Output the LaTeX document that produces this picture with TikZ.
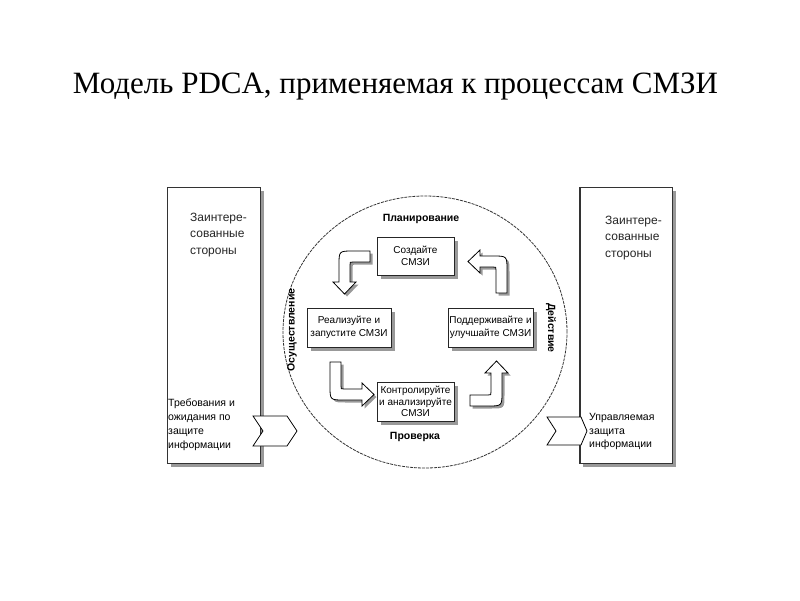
\documentclass[tikz,border=0pt]{standalone}
\usepackage{fontspec}
\setmainfont{Liberation Serif}
\setsansfont{Liberation Sans}
\usetikzlibrary{positioning}
\usetikzlibrary{shadows}

\tikzset{
  sidebox/.style={draw=black!80, line width=1.3pt, fill=white, inner sep=0pt,
    minimum width=93pt, minimum height=276pt,
    drop shadow={shadow xshift=3pt, shadow yshift=-3pt, fill=black!40, opacity=1}},
  stagebox/.style={draw=black!85, line width=0.8pt, fill=white, inner sep=1pt,
    minimum width=77pt, minimum height=38pt, align=center,
    font=\sffamily\fontsize{10}{12.5}\selectfont,
    drop shadow={shadow xshift=4pt, shadow yshift=-4pt, fill=black!40, opacity=1}},
  phase/.style={inner sep=0pt, font=\sffamily\bfseries\fontsize{10.5}{12}\selectfont},
  sidetext/.style={anchor=north west, align=left, inner sep=0pt, text=black!85,
    font=\sffamily\fontsize{12}{16.5}\selectfont},
  flowtext/.style={anchor=north west, align=left, inner sep=0pt,
    font=\sffamily\fontsize{10.5}{13.7}\selectfont},
  chevron/.style={draw=black, line width=0.8pt, fill=white},
  turnarrow/.style={draw=black, line width=0.8pt, fill=white,
    drop shadow={shadow xshift=2.5pt, shadow yshift=-2.5pt, fill=black!40, opacity=1}},
  ring/.style={draw=black!80, line width=0.8pt, dash pattern=on 3pt off 1pt}
}

% bent block arrow: #1 = tail length, #2 = shaft length up to the head
\newcommand{\turnarrow}[2]{%
  \draw[turnarrow] (#1,0) -- (14,0) .. controls (0,0) .. (0,14) -- (0,#2)
    -- (-6,#2) -- (5.5,#2+12) -- (17,#2) -- (11,#2) -- (11,14)
    .. controls (11,11) .. (14,11) -- (#1,11) -- cycle;}

\begin{document}
\begin{tikzpicture}[x=1pt, y=-1pt]
    \useasboundingbox (0,0) rectangle (800,600);

    % Title
    \node[anchor=base, inner sep=0pt, font=\fontsize{31}{36}\selectfont] (title) at (395.5,93)
        {Модель PDCA, применяемая к процессам СМЗИ};

    % Interested parties
    \node[sidebox] (lparty) at (214.25,325.75) {};
    \node[sidebox, minimum width=92.5pt] (rparty) at (626.25,325.75) {};
    \node[sidetext] (ltop) at (190,212.5) {Заинтере-\\сованные\\стороны};
    \node[sidetext] (rtop) at (605,215.5) {Заинтере-\\сованные\\стороны};

    % PDCA circle
    \draw[ring] (425,332) ellipse [x radius=142pt, y radius=136pt];

    % Input and output chevrons
    \draw[chevron] (253,416) -- (287,416) -- (297,431) -- (287,446) -- (253,446) -- (263,431) -- cycle;
    \draw[chevron] (547,417) -- (581,417) -- (587,431) -- (581,445) -- (547,445) -- (556,431) -- cycle;
    \node[flowtext] (lreq) at (168,399) {Требования и\\ожидания по\\защите\\информации};
    \node[flowtext] (rout) at (589,413) {Управляемая\\защита\\информации};

    % Stages
    \node[stagebox] (plan) at (415.5,256) {Создайте\\СМЗИ};
    \node[stagebox, minimum width=84pt, minimum height=39pt] (do) at (349,327.5) {Реализуйте и\\запустите СМЗИ};
    \node[stagebox, minimum width=85pt, minimum height=39pt] (act) at (490.5,327.5) {Поддерживайте и\\улучшайте СМЗИ};
    \node[stagebox, minimum height=39pt, font=\sffamily\fontsize{10}{11.5}\selectfont] (check) at (415.5,401.5)
        {Контролируйте\\и анализируйте\\СМЗИ};

    % Phase names
    \node[phase] (planlbl) at (421,219) {Планирование};
    \node[phase] (checklbl) at (415,437) {Проверка};
    \node[phase, rotate=90] (dolbl) at (292,330) {Осуществление};
    \node[phase, rotate=-90] (actlbl) at (551,328) {Действие};

    % Cycle arrows
    \begin{scope}[shift={(339,251)}, x={(1pt,0pt)}, y={(0pt,-1pt)}]
        \turnarrow{31}{31}
    \end{scope}
    \begin{scope}[shift={(507,256)}, x={(0pt,-1pt)}, y={(-1pt,0pt)}]
        \turnarrow{37}{27}
    \end{scope}
    \begin{scope}[shift={(330,400)}, x={(0pt,1pt)}, y={(1pt,0pt)}]
        \turnarrow{38}{32}
    \end{scope}
    \begin{scope}[shift={(502,406)}, x={(-1pt,0pt)}, y={(0pt,1pt)}]
        \turnarrow{32}{33}
    \end{scope}
\end{tikzpicture}
\end{document}
